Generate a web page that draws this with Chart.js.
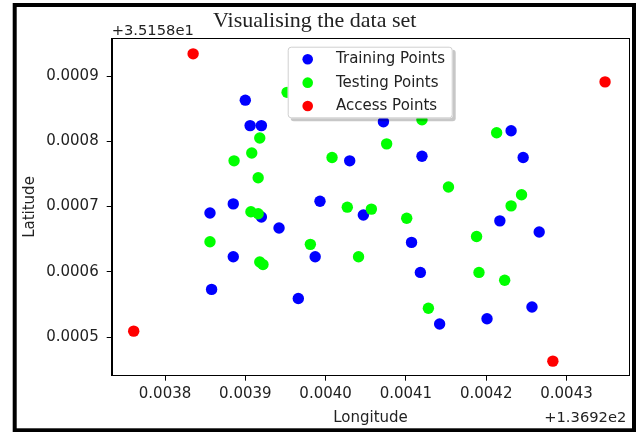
<!DOCTYPE html>
<html><head><meta charset="utf-8">
<script src="https://cdn.jsdelivr.net/npm/chart.js@4/dist/chart.umd.min.js"></script>
<style>html,body{margin:0;padding:0;background:#fff}#wrap{width:641px;height:432px;position:relative}</style>
</head><body><div id="wrap"><canvas id="c" width="641" height="432"></canvas></div>
<script>
// Values shown relative to the axis offsets (+1.3692e2 lon, +3.5158e1 lat)
const trainLon = [0.003900, 0.003906, 0.003920, 0.004030, 0.003993, 0.003885, 0.003856, 0.003920, 0.004047, 0.003942, 0.003885, 0.003987, 0.003858, 0.003966, 0.004072, 0.004120, 0.004231, 0.004246, 0.004217, 0.004266, 0.004107, 0.004118, 0.004142, 0.004201, 0.004257];
const trainLat = [0.000863, 0.000824, 0.000824, 0.000770, 0.000708, 0.000704, 0.000690, 0.000684, 0.000687, 0.000667, 0.000623, 0.000623, 0.000573, 0.000559, 0.000830, 0.000777, 0.000816, 0.000775, 0.000678, 0.000661, 0.000645, 0.000599, 0.000520, 0.000528, 0.000546];
const testLon = [0.003952, 0.003918, 0.003908, 0.003886, 0.004008, 0.003916, 0.003907, 0.003916, 0.004027, 0.003856, 0.003918, 0.003922, 0.003981, 0.004041, 0.004120, 0.004076, 0.004153, 0.004057, 0.004101, 0.004213, 0.004244, 0.004231, 0.004188, 0.004191, 0.004223, 0.004128];
const testLat = [0.000875, 0.000805, 0.000782, 0.000770, 0.000775, 0.000744, 0.000692, 0.000689, 0.000699, 0.000646, 0.000615, 0.000611, 0.000642, 0.000623, 0.000833, 0.000796, 0.000730, 0.000696, 0.000682, 0.000813, 0.000718, 0.000701, 0.000654, 0.000599, 0.000587, 0.000544];
const apLon = [0.003835, 0.003761, 0.004348, 0.004283];
const apLat = [0.000934, 0.000509, 0.000891, 0.000463];

const xTicks = [0.0038, 0.0039, 0.0040, 0.0041, 0.0042, 0.0043];
const yTicks = [0.0005, 0.0006, 0.0007, 0.0008, 0.0009];
const seriesLabels = ['Training Points', 'Testing Points', 'Access Points'];
const titleText = 'Visualising the data set';
const xAxisTitle = 'Longitude';
const yAxisTitle = 'Latitude';
const xOffsetText = '+1.3692e2';
const yOffsetText = '+3.5158e1';

const toPts = (xs, ys) => xs.map((x, i) => ({x: x, y: ys[i]}));
const TXT = '#222';
const FONT = 'DejaVu Sans';

const extras = {
  id: 'extras',
  afterDraw(chart) {
    const ctx = chart.ctx, a = chart.chartArea;
    ctx.save();
    // axes frame (top/right spines)
    ctx.strokeStyle = '#000'; ctx.lineWidth = 1;
    ctx.strokeRect(Math.round(a.left) + 0.5, Math.round(a.top) + 0.5, Math.round(a.right - a.left) - 1, Math.round(a.bottom - a.top));
    // outer frame
    ctx.lineWidth = 4; ctx.strokeStyle = '#000';
    ctx.strokeRect(14.7, 5, 619.3, 425.3);
    // offset texts
    ctx.fillStyle = TXT; ctx.font = '14.7px "' + FONT + '"';
    ctx.textBaseline = 'alphabetic';
    ctx.textAlign = 'left'; ctx.fillText(yOffsetText, a.left, 35);
    ctx.textAlign = 'right'; ctx.fillText(xOffsetText, a.right - 3, 421.5);
    // legend
    const lx = 287.7, ly = 46.7, lw = 165, lh = 71.6, r = 3;
    const rr = (x, y, w, h) => { ctx.beginPath(); ctx.roundRect(x, y, w, h, r); };
    ctx.fillStyle = 'rgba(0,0,0,0.22)'; rr(lx + 3, ly + 3, lw, lh); ctx.fill();
    ctx.fillStyle = '#fff'; rr(lx, ly, lw, lh); ctx.fill();
    ctx.strokeStyle = '#d0d0d0'; ctx.lineWidth = 1; rr(lx + 0.5, ly + 0.5, lw - 1, lh - 1); ctx.stroke();
    ctx.font = '15px "' + FONT + '"';
    ctx.textAlign = 'left'; ctx.textBaseline = 'middle';
    chart.data.datasets.forEach((ds, i) => {
      const cy = 59.3 + i * 23.35;
      ctx.fillStyle = ds.backgroundColor;
      ctx.beginPath(); ctx.arc(307.7, cy, 5.3, 0, Math.PI * 2); ctx.fill();
      ctx.fillStyle = TXT; ctx.fillText(ds.label, 336, cy);
    });
    ctx.restore();
  }
};

new Chart(document.getElementById('c'), {
  type: 'scatter',
  data: {
    datasets: [
      {label: seriesLabels[0], data: toPts(trainLon, trainLat), backgroundColor: '#0000ff', order: 3},
      {label: seriesLabels[1], data: toPts(testLon, testLat), backgroundColor: '#00ff00', order: 2},
      {label: seriesLabels[2], data: toPts(apLon, apLat), backgroundColor: '#ff0000', order: 1}
    ]
  },
  options: {
    responsive: false,
    animation: false,
    elements: {point: {radius: 5.7, hoverRadius: 5.7, borderWidth: 0}},
    layout: {padding: {left: 0, right: 11.7, top: 0, bottom: 0}},
    plugins: {
      legend: {display: false},
      tooltip: {enabled: false},
      title: {display: true, text: titleText, color: TXT,
        font: {family: 'Liberation Serif', size: 22, weight: 'normal', lineHeight: 1.2},
        padding: {top: 7.6, bottom: 4.3}}
    },
    scales: {
      x: {
        type: 'linear', position: 'bottom', min: 0.0037336, max: 0.0043782,
        afterFit(s) { s.height = 56.3; },
        afterBuildTicks(s) { s.ticks = xTicks.map(v => ({value: v})); },
        grid: {display: true, drawOnChartArea: false, drawTicks: true, tickLength: 5, color: '#000'},
        border: {display: true, color: '#000', width: 1},
        ticks: {color: TXT, font: {family: FONT, size: 15}, padding: 4, maxRotation: 0,
          callback: v => v.toFixed(4)},
        title: {display: true, text: xAxisTitle, color: TXT, font: {family: FONT, size: 15}, padding: {top: 0, bottom: 5}}
      },
      y: {
        type: 'linear', position: 'left', min: 0.0004407, max: 0.0009578,
        afterFit(s) { s.width = 111.7; },
        afterBuildTicks(s) { s.ticks = yTicks.map(v => ({value: v})); },
        grid: {display: true, drawOnChartArea: false, drawTicks: true, tickLength: 5, color: '#000'},
        border: {display: true, color: '#000', width: 1},
        ticks: {color: TXT, font: {family: FONT, size: 15}, padding: 8,
          callback: v => v.toFixed(4)},
        title: {display: true, text: yAxisTitle, color: TXT, font: {family: FONT, size: 15}, padding: {top: 21.5, bottom: 0}}
      }
    }
  },
  plugins: [extras]
});
</script>
</body></html>
